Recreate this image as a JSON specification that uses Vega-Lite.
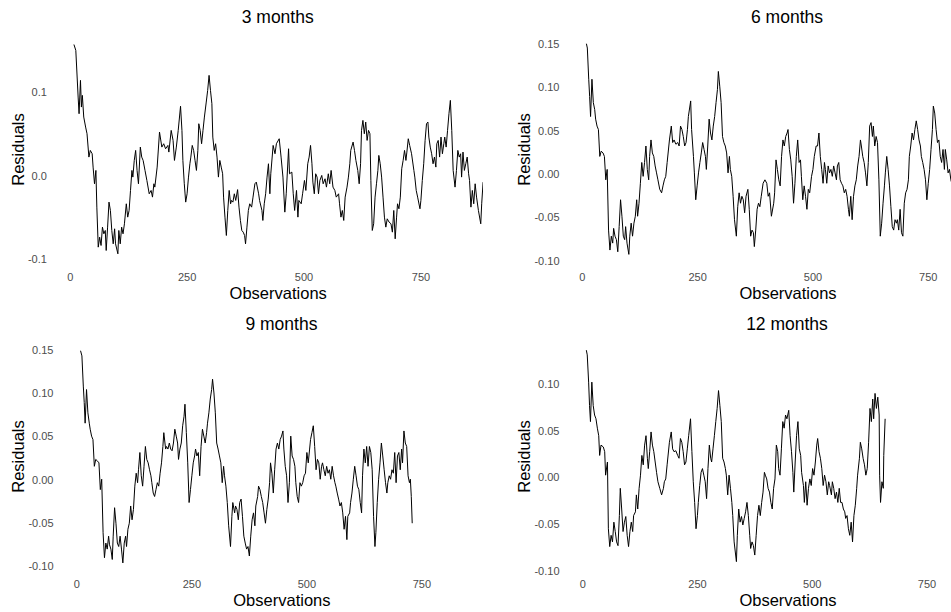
{
"$schema": "https://vega.github.io/schema/vega-lite/v6.json",
"background": "white",
"padding": {"left": 10, "top": 8, "right": 0, "bottom": 0},
"config": {
  "view": {"stroke": null},
  "font": "Liberation Sans",
  "axis": {"grid": false, "domain": false, "ticks": false, "labelFlush": false, "labelOverlap": false, "labelFont": "Liberation Sans", "labelFontSize": 11, "labelColor": "#4d4d4d", "titleFont": "Liberation Sans", "titleFontSize": 16.5, "titleFontWeight": "normal", "titleColor": "#000000"},
  "axisX": {"labelPadding": 5, "titlePadding": 3},
  "axisY": {"labelPadding": 4, "titlePadding": 1},
  "title": {"font": "Liberation Sans", "fontSize": 17.5, "fontWeight": "normal", "anchor": "middle", "color": "#000000", "offset": 6},
  "line": {"color": "#000000", "strokeWidth": 1}
},
"datasets": {
"m3": [{"obs":9,"r":0.158},{"obs":13,"r":0.151},{"obs":18,"r":0.095},{"obs":20,"r":0.075},{"obs":23,"r":0.115},{"obs":25,"r":0.083},{"obs":27,"r":0.097},{"obs":30,"r":0.071},{"obs":34,"r":0.059},{"obs":37,"r":0.051},{"obs":41,"r":0.023},{"obs":44,"r":0.031},{"obs":48,"r":0.027},{"obs":50,"r":0.011},{"obs":53,"r":-0.009},{"obs":56,"r":0.007},{"obs":58,"r":-0.037},{"obs":61,"r":-0.085},{"obs":64,"r":-0.073},{"obs":67,"r":-0.083},{"obs":70,"r":-0.061},{"obs":73,"r":-0.069},{"obs":76,"r":-0.065},{"obs":78,"r":-0.089},{"obs":81,"r":-0.061},{"obs":84,"r":-0.031},{"obs":87,"r":-0.041},{"obs":90,"r":-0.065},{"obs":93,"r":-0.081},{"obs":96,"r":-0.063},{"obs":98,"r":-0.081},{"obs":103,"r":-0.093},{"obs":105,"r":-0.065},{"obs":108,"r":-0.081},{"obs":111,"r":-0.061},{"obs":114,"r":-0.069},{"obs":117,"r":-0.057},{"obs":121,"r":-0.033},{"obs":124,"r":-0.049},{"obs":127,"r":-0.041},{"obs":130,"r":-0.017},{"obs":133,"r":0.007},{"obs":135,"r":-0.001},{"obs":138,"r":0.019},{"obs":141,"r":0.031},{"obs":144,"r":0.007},{"obs":147,"r":-0.009},{"obs":151,"r":0.035},{"obs":154,"r":0.023},{"obs":157,"r":0.019},{"obs":161,"r":0.007},{"obs":165,"r":-0.005},{"obs":170,"r":-0.021},{"obs":174,"r":-0.017},{"obs":177,"r":-0.025},{"obs":180,"r":-0.009},{"obs":182,"r":-0.013},{"obs":187,"r":0.011},{"obs":192,"r":0.053},{"obs":197,"r":0.035},{"obs":201,"r":0.039},{"obs":205,"r":0.033},{"obs":210,"r":0.037},{"obs":212,"r":0.029},{"obs":217,"r":0.055},{"obs":221,"r":0.043},{"obs":224,"r":0.019},{"obs":228,"r":0.035},{"obs":232,"r":0.055},{"obs":237,"r":0.084},{"obs":240,"r":0.055},{"obs":242,"r":0.019},{"obs":245,"r":-0.009},{"obs":248,"r":-0.031},{"obs":251,"r":-0.021},{"obs":254,"r":-0.001},{"obs":257,"r":0.015},{"obs":259,"r":0.023},{"obs":262,"r":0.037},{"obs":265,"r":0.031},{"obs":268,"r":0.019},{"obs":271,"r":0.007},{"obs":274,"r":0.031},{"obs":276,"r":0.063},{"obs":279,"r":0.055},{"obs":282,"r":0.039},{"obs":285,"r":0.055},{"obs":288,"r":0.071},{"obs":292,"r":0.089},{"obs":295,"r":0.103},{"obs":298,"r":0.121},{"obs":301,"r":0.103},{"obs":304,"r":0.087},{"obs":306,"r":0.047},{"obs":309,"r":0.031},{"obs":312,"r":0.039},{"obs":315,"r":0.023},{"obs":318,"r":-0.001},{"obs":321,"r":0.019},{"obs":324,"r":0.011},{"obs":327,"r":0.003},{"obs":329,"r":-0.025},{"obs":332,"r":-0.049},{"obs":335,"r":-0.071},{"obs":338,"r":-0.041},{"obs":341,"r":-0.017},{"obs":344,"r":-0.033},{"obs":346,"r":-0.029},{"obs":349,"r":-0.031},{"obs":352,"r":-0.021},{"obs":355,"r":-0.029},{"obs":359,"r":-0.016},{"obs":362,"r":-0.037},{"obs":365,"r":-0.053},{"obs":368,"r":-0.065},{"obs":371,"r":-0.067},{"obs":374,"r":-0.071},{"obs":376,"r":-0.081},{"obs":379,"r":-0.061},{"obs":382,"r":-0.041},{"obs":385,"r":-0.033},{"obs":389,"r":-0.037},{"obs":392,"r":-0.025},{"obs":396,"r":-0.009},{"obs":399,"r":-0.007},{"obs":404,"r":-0.021},{"obs":406,"r":-0.029},{"obs":411,"r":-0.041},{"obs":413,"r":-0.053},{"obs":416,"r":-0.033},{"obs":419,"r":-0.021},{"obs":422,"r":-0.001},{"obs":425,"r":0.015},{"obs":428,"r":-0.021},{"obs":430,"r":0.003},{"obs":435,"r":0.037},{"obs":439,"r":0.027},{"obs":442,"r":0.039},{"obs":448,"r":0.045},{"obs":452,"r":0.023},{"obs":456,"r":-0.001},{"obs":460,"r":-0.043},{"obs":463,"r":-0.021},{"obs":468,"r":0.033},{"obs":470,"r":0.003},{"obs":475,"r":0.005},{"obs":478,"r":-0.021},{"obs":481,"r":-0.041},{"obs":485,"r":-0.017},{"obs":488,"r":-0.049},{"obs":490,"r":-0.029},{"obs":495,"r":-0.033},{"obs":498,"r":-0.021},{"obs":502,"r":-0.005},{"obs":505,"r":-0.017},{"obs":509,"r":0.015},{"obs":512,"r":0.023},{"obs":515,"r":0.037},{"obs":518,"r":0.015},{"obs":520,"r":-0.007},{"obs":523,"r":-0.021},{"obs":526,"r":0.003},{"obs":529,"r":-0.001},{"obs":532,"r":-0.021},{"obs":535,"r":-0.005},{"obs":539,"r":0.001},{"obs":542,"r":-0.009},{"obs":546,"r":-0.003},{"obs":549,"r":-0.013},{"obs":553,"r":0.003},{"obs":556,"r":-0.009},{"obs":559,"r":0.007},{"obs":563,"r":-0.013},{"obs":567,"r":-0.017},{"obs":570,"r":-0.025},{"obs":575,"r":-0.021},{"obs":577,"r":-0.033},{"obs":580,"r":-0.049},{"obs":583,"r":-0.041},{"obs":586,"r":-0.053},{"obs":589,"r":-0.025},{"obs":593,"r":-0.013},{"obs":596,"r":-0.001},{"obs":599,"r":0.015},{"obs":601,"r":0.031},{"obs":606,"r":0.041},{"obs":609,"r":0.031},{"obs":612,"r":0.019},{"obs":616,"r":0.007},{"obs":619,"r":-0.009},{"obs":622,"r":0.015},{"obs":624,"r":0.055},{"obs":627,"r":0.067},{"obs":630,"r":0.051},{"obs":633,"r":0.065},{"obs":636,"r":0.043},{"obs":639,"r":0.055},{"obs":642,"r":0.051},{"obs":644,"r":-0.005},{"obs":647,"r":-0.065},{"obs":650,"r":-0.057},{"obs":653,"r":-0.025},{"obs":656,"r":-0.009},{"obs":659,"r":0.007},{"obs":661,"r":0.025},{"obs":664,"r":0.015},{"obs":667,"r":-0.001},{"obs":670,"r":-0.025},{"obs":673,"r":-0.049},{"obs":676,"r":-0.061},{"obs":679,"r":-0.051},{"obs":683,"r":-0.055},{"obs":687,"r":-0.057},{"obs":690,"r":-0.067},{"obs":693,"r":-0.041},{"obs":696,"r":-0.075},{"obs":699,"r":-0.049},{"obs":701,"r":-0.033},{"obs":704,"r":-0.039},{"obs":707,"r":-0.025},{"obs":710,"r":0.009},{"obs":713,"r":0.019},{"obs":716,"r":0.031},{"obs":719,"r":0.019},{"obs":721,"r":0.029},{"obs":724,"r":0.045},{"obs":727,"r":0.037},{"obs":731,"r":0.027},{"obs":736,"r":0.007},{"obs":738,"r":-0.001},{"obs":741,"r":-0.017},{"obs":744,"r":-0.025},{"obs":749,"r":-0.039},{"obs":751,"r":-0.029},{"obs":754,"r":-0.005},{"obs":757,"r":0.015},{"obs":760,"r":0.043},{"obs":763,"r":0.063},{"obs":766,"r":0.065},{"obs":768,"r":0.047},{"obs":771,"r":0.035},{"obs":774,"r":0.027},{"obs":777,"r":0.015},{"obs":780,"r":0.023},{"obs":783,"r":0.011},{"obs":785,"r":0.039},{"obs":788,"r":0.043},{"obs":791,"r":0.023},{"obs":794,"r":0.047},{"obs":797,"r":0.027},{"obs":800,"r":0.039},{"obs":802,"r":0.047},{"obs":805,"r":0.035},{"obs":808,"r":0.055},{"obs":811,"r":0.075},{"obs":814,"r":0.091},{"obs":817,"r":0.055},{"obs":820,"r":0.007},{"obs":824,"r":-0.013},{"obs":827,"r":0.007},{"obs":830,"r":0.031},{"obs":833,"r":0.023},{"obs":836,"r":0.027},{"obs":838,"r":-0.001},{"obs":841,"r":0.029},{"obs":844,"r":0.007},{"obs":847,"r":0.015},{"obs":850,"r":0.023},{"obs":853,"r":0.003},{"obs":855,"r":-0.005},{"obs":858,"r":-0.037},{"obs":861,"r":-0.017},{"obs":864,"r":-0.033},{"obs":867,"r":-0.009},{"obs":870,"r":-0.025},{"obs":874,"r":-0.041},{"obs":879,"r":-0.057},{"obs":881,"r":-0.033},{"obs":884,"r":-0.007}],
"m6": [{"obs":10,"r":0.151},{"obs":12,"r":0.146},{"obs":15,"r":0.110},{"obs":17,"r":0.090},{"obs":19,"r":0.067},{"obs":22,"r":0.110},{"obs":25,"r":0.083},{"obs":28,"r":0.075},{"obs":30,"r":0.064},{"obs":33,"r":0.056},{"obs":36,"r":0.052},{"obs":39,"r":0.021},{"obs":42,"r":0.027},{"obs":46,"r":0.025},{"obs":49,"r":0.021},{"obs":52,"r":-0.006},{"obs":55,"r":0.006},{"obs":58,"r":-0.064},{"obs":61,"r":-0.087},{"obs":64,"r":-0.071},{"obs":67,"r":-0.079},{"obs":69,"r":-0.062},{"obs":72,"r":-0.071},{"obs":75,"r":-0.075},{"obs":78,"r":-0.089},{"obs":81,"r":-0.060},{"obs":84,"r":-0.029},{"obs":87,"r":-0.048},{"obs":90,"r":-0.071},{"obs":93,"r":-0.075},{"obs":95,"r":-0.060},{"obs":98,"r":-0.079},{"obs":102,"r":-0.092},{"obs":104,"r":-0.071},{"obs":107,"r":-0.056},{"obs":110,"r":-0.071},{"obs":113,"r":-0.056},{"obs":116,"r":-0.048},{"obs":119,"r":-0.029},{"obs":121,"r":-0.048},{"obs":124,"r":-0.033},{"obs":127,"r":-0.010},{"obs":130,"r":0.014},{"obs":133,"r":-0.002},{"obs":136,"r":0.014},{"obs":139,"r":0.033},{"obs":142,"r":0.006},{"obs":145,"r":-0.006},{"obs":147,"r":0.021},{"obs":150,"r":0.040},{"obs":153,"r":0.025},{"obs":156,"r":0.021},{"obs":159,"r":0.010},{"obs":162,"r":0.002},{"obs":165,"r":-0.006},{"obs":169,"r":-0.017},{"obs":173,"r":-0.021},{"obs":176,"r":-0.013},{"obs":179,"r":-0.006},{"obs":182,"r":-0.002},{"obs":185,"r":0.014},{"obs":190,"r":0.040},{"obs":194,"r":0.056},{"obs":197,"r":0.037},{"obs":200,"r":0.040},{"obs":204,"r":0.035},{"obs":208,"r":0.037},{"obs":211,"r":0.033},{"obs":214,"r":0.056},{"obs":217,"r":0.052},{"obs":220,"r":0.044},{"obs":223,"r":0.033},{"obs":226,"r":0.037},{"obs":229,"r":0.052},{"obs":231,"r":0.067},{"obs":236,"r":0.085},{"obs":238,"r":0.052},{"obs":242,"r":0.021},{"obs":244,"r":0.002},{"obs":247,"r":-0.029},{"obs":250,"r":-0.013},{"obs":253,"r":0.002},{"obs":256,"r":0.014},{"obs":259,"r":0.025},{"obs":262,"r":0.037},{"obs":265,"r":0.029},{"obs":268,"r":0.021},{"obs":270,"r":0.006},{"obs":273,"r":0.033},{"obs":276,"r":0.064},{"obs":279,"r":0.048},{"obs":282,"r":0.040},{"obs":285,"r":0.056},{"obs":288,"r":0.067},{"obs":291,"r":0.083},{"obs":294,"r":0.098},{"obs":296,"r":0.119},{"obs":299,"r":0.102},{"obs":302,"r":0.083},{"obs":305,"r":0.044},{"obs":308,"r":0.037},{"obs":311,"r":0.033},{"obs":314,"r":0.025},{"obs":317,"r":0.002},{"obs":320,"r":0.021},{"obs":322,"r":0.006},{"obs":325,"r":-0.002},{"obs":328,"r":-0.025},{"obs":331,"r":-0.052},{"obs":335,"r":-0.071},{"obs":338,"r":-0.037},{"obs":341,"r":-0.021},{"obs":344,"r":-0.033},{"obs":347,"r":-0.025},{"obs":350,"r":-0.029},{"obs":353,"r":-0.044},{"obs":356,"r":-0.025},{"obs":360,"r":-0.017},{"obs":363,"r":-0.040},{"obs":366,"r":-0.071},{"obs":369,"r":-0.064},{"obs":372,"r":-0.067},{"obs":374,"r":-0.083},{"obs":377,"r":-0.064},{"obs":380,"r":-0.040},{"obs":383,"r":-0.033},{"obs":386,"r":-0.037},{"obs":389,"r":-0.025},{"obs":393,"r":-0.010},{"obs":397,"r":-0.006},{"obs":401,"r":-0.010},{"obs":404,"r":-0.025},{"obs":407,"r":-0.021},{"obs":411,"r":-0.048},{"obs":416,"r":-0.033},{"obs":418,"r":-0.021},{"obs":421,"r":0.017},{"obs":424,"r":0.006},{"obs":427,"r":-0.006},{"obs":430,"r":-0.013},{"obs":433,"r":0.021},{"obs":436,"r":0.040},{"obs":439,"r":0.033},{"obs":442,"r":0.044},{"obs":445,"r":0.048},{"obs":447,"r":0.052},{"obs":450,"r":0.029},{"obs":453,"r":0.017},{"obs":456,"r":-0.002},{"obs":459,"r":-0.033},{"obs":462,"r":-0.010},{"obs":465,"r":0.021},{"obs":468,"r":0.040},{"obs":471,"r":0.014},{"obs":474,"r":0.017},{"obs":476,"r":-0.002},{"obs":479,"r":-0.029},{"obs":482,"r":-0.013},{"obs":485,"r":-0.025},{"obs":488,"r":-0.040},{"obs":491,"r":-0.017},{"obs":494,"r":-0.021},{"obs":498,"r":-0.002},{"obs":501,"r":0.006},{"obs":504,"r":0.021},{"obs":508,"r":0.033},{"obs":511,"r":0.033},{"obs":514,"r":0.048},{"obs":517,"r":0.021},{"obs":520,"r":0.006},{"obs":523,"r":-0.010},{"obs":526,"r":0.014},{"obs":528,"r":0.006},{"obs":531,"r":-0.010},{"obs":534,"r":0.010},{"obs":537,"r":0.002},{"obs":540,"r":0.006},{"obs":543,"r":-0.002},{"obs":546,"r":0.010},{"obs":549,"r":0.002},{"obs":552,"r":-0.006},{"obs":554,"r":0.010},{"obs":557,"r":0.014},{"obs":560,"r":-0.006},{"obs":563,"r":-0.010},{"obs":566,"r":-0.013},{"obs":569,"r":-0.021},{"obs":572,"r":-0.017},{"obs":575,"r":-0.025},{"obs":578,"r":-0.040},{"obs":580,"r":-0.048},{"obs":583,"r":-0.025},{"obs":586,"r":-0.052},{"obs":589,"r":-0.025},{"obs":592,"r":-0.013},{"obs":595,"r":-0.006},{"obs":598,"r":0.010},{"obs":601,"r":0.021},{"obs":604,"r":0.040},{"obs":606,"r":0.033},{"obs":609,"r":0.021},{"obs":612,"r":0.014},{"obs":615,"r":0.002},{"obs":618,"r":-0.013},{"obs":621,"r":0.014},{"obs":624,"r":0.056},{"obs":627,"r":0.060},{"obs":630,"r":0.044},{"obs":632,"r":0.056},{"obs":635,"r":0.033},{"obs":638,"r":0.044},{"obs":641,"r":0.037},{"obs":644,"r":-0.006},{"obs":647,"r":-0.071},{"obs":650,"r":-0.056},{"obs":653,"r":-0.033},{"obs":656,"r":-0.013},{"obs":658,"r":0.002},{"obs":661,"r":0.021},{"obs":664,"r":0.006},{"obs":667,"r":-0.013},{"obs":670,"r":-0.037},{"obs":673,"r":-0.060},{"obs":676,"r":-0.064},{"obs":679,"r":-0.052},{"obs":682,"r":-0.056},{"obs":684,"r":-0.052},{"obs":687,"r":-0.064},{"obs":690,"r":-0.040},{"obs":693,"r":-0.067},{"obs":696,"r":-0.071},{"obs":699,"r":-0.033},{"obs":702,"r":-0.021},{"obs":705,"r":-0.017},{"obs":708,"r":-0.006},{"obs":710,"r":0.021},{"obs":713,"r":0.033},{"obs":716,"r":0.048},{"obs":719,"r":0.040},{"obs":722,"r":0.052},{"obs":725,"r":0.062},{"obs":728,"r":0.052},{"obs":731,"r":0.040},{"obs":734,"r":0.033},{"obs":736,"r":0.021},{"obs":739,"r":0.014},{"obs":742,"r":0.006},{"obs":745,"r":-0.006},{"obs":748,"r":-0.029},{"obs":751,"r":-0.010},{"obs":754,"r":0.006},{"obs":757,"r":0.029},{"obs":760,"r":0.052},{"obs":762,"r":0.079},{"obs":765,"r":0.071},{"obs":768,"r":0.052},{"obs":771,"r":0.037},{"obs":774,"r":0.040},{"obs":777,"r":0.021},{"obs":780,"r":0.014},{"obs":783,"r":0.029},{"obs":786,"r":0.006},{"obs":788,"r":0.029},{"obs":791,"r":0.017},{"obs":794,"r":0.002},{"obs":797,"r":0.006},{"obs":800,"r":-0.006},{"obs":803,"r":-0.012}],
"m9": [{"obs":9,"r":0.150},{"obs":12,"r":0.144},{"obs":15,"r":0.109},{"obs":17,"r":0.090},{"obs":19,"r":0.066},{"obs":22,"r":0.105},{"obs":25,"r":0.078},{"obs":28,"r":0.066},{"obs":30,"r":0.059},{"obs":33,"r":0.051},{"obs":36,"r":0.047},{"obs":39,"r":0.016},{"obs":42,"r":0.024},{"obs":46,"r":0.022},{"obs":49,"r":0.020},{"obs":52,"r":-0.011},{"obs":55,"r":0.001},{"obs":58,"r":-0.061},{"obs":61,"r":-0.090},{"obs":64,"r":-0.073},{"obs":67,"r":-0.080},{"obs":70,"r":-0.065},{"obs":72,"r":-0.075},{"obs":75,"r":-0.080},{"obs":78,"r":-0.092},{"obs":80,"r":-0.065},{"obs":83,"r":-0.032},{"obs":86,"r":-0.050},{"obs":89,"r":-0.073},{"obs":92,"r":-0.077},{"obs":95,"r":-0.065},{"obs":98,"r":-0.080},{"obs":101,"r":-0.096},{"obs":104,"r":-0.073},{"obs":107,"r":-0.065},{"obs":109,"r":-0.077},{"obs":112,"r":-0.057},{"obs":115,"r":-0.050},{"obs":118,"r":-0.030},{"obs":121,"r":-0.046},{"obs":124,"r":-0.034},{"obs":127,"r":-0.007},{"obs":130,"r":0.008},{"obs":133,"r":-0.003},{"obs":135,"r":0.012},{"obs":138,"r":0.032},{"obs":141,"r":0.005},{"obs":144,"r":-0.007},{"obs":147,"r":0.016},{"obs":150,"r":0.039},{"obs":153,"r":0.024},{"obs":156,"r":0.020},{"obs":159,"r":0.012},{"obs":162,"r":0.005},{"obs":164,"r":-0.003},{"obs":167,"r":-0.015},{"obs":170,"r":-0.019},{"obs":173,"r":-0.011},{"obs":176,"r":-0.003},{"obs":179,"r":-0.007},{"obs":182,"r":0.008},{"obs":185,"r":0.020},{"obs":188,"r":0.039},{"obs":190,"r":0.055},{"obs":194,"r":0.036},{"obs":196,"r":0.039},{"obs":199,"r":0.036},{"obs":202,"r":0.043},{"obs":205,"r":0.036},{"obs":208,"r":0.034},{"obs":211,"r":0.043},{"obs":214,"r":0.059},{"obs":217,"r":0.051},{"obs":220,"r":0.043},{"obs":222,"r":0.024},{"obs":225,"r":0.036},{"obs":228,"r":0.043},{"obs":231,"r":0.063},{"obs":234,"r":0.074},{"obs":236,"r":0.088},{"obs":239,"r":0.055},{"obs":242,"r":0.020},{"obs":245,"r":-0.026},{"obs":248,"r":-0.011},{"obs":251,"r":0.005},{"obs":254,"r":0.020},{"obs":257,"r":0.028},{"obs":259,"r":0.036},{"obs":262,"r":0.028},{"obs":265,"r":0.032},{"obs":268,"r":0.005},{"obs":271,"r":0.039},{"obs":274,"r":0.059},{"obs":277,"r":0.051},{"obs":280,"r":0.043},{"obs":283,"r":0.055},{"obs":285,"r":0.066},{"obs":288,"r":0.078},{"obs":291,"r":0.094},{"obs":294,"r":0.105},{"obs":296,"r":0.117},{"obs":299,"r":0.101},{"obs":302,"r":0.078},{"obs":305,"r":0.043},{"obs":308,"r":0.036},{"obs":311,"r":0.028},{"obs":314,"r":0.020},{"obs":317,"r":-0.003},{"obs":320,"r":0.016},{"obs":322,"r":0.005},{"obs":325,"r":-0.007},{"obs":328,"r":-0.026},{"obs":331,"r":-0.053},{"obs":335,"r":-0.077},{"obs":338,"r":-0.042},{"obs":340,"r":-0.026},{"obs":344,"r":-0.038},{"obs":346,"r":-0.030},{"obs":349,"r":-0.034},{"obs":352,"r":-0.046},{"obs":355,"r":-0.026},{"obs":358,"r":-0.022},{"obs":361,"r":-0.042},{"obs":364,"r":-0.065},{"obs":367,"r":-0.073},{"obs":370,"r":-0.080},{"obs":373,"r":-0.077},{"obs":376,"r":-0.088},{"obs":379,"r":-0.065},{"obs":382,"r":-0.046},{"obs":385,"r":-0.038},{"obs":388,"r":-0.053},{"obs":390,"r":-0.030},{"obs":394,"r":-0.019},{"obs":396,"r":-0.007},{"obs":399,"r":-0.011},{"obs":402,"r":-0.019},{"obs":405,"r":-0.026},{"obs":408,"r":-0.038},{"obs":411,"r":-0.050},{"obs":414,"r":-0.034},{"obs":417,"r":-0.022},{"obs":420,"r":-0.003},{"obs":422,"r":0.020},{"obs":425,"r":0.008},{"obs":428,"r":-0.015},{"obs":431,"r":0.012},{"obs":434,"r":0.036},{"obs":437,"r":0.043},{"obs":440,"r":0.036},{"obs":443,"r":0.047},{"obs":446,"r":0.051},{"obs":449,"r":0.057},{"obs":451,"r":0.036},{"obs":454,"r":0.016},{"obs":457,"r":0.005},{"obs":460,"r":-0.026},{"obs":463,"r":-0.003},{"obs":466,"r":0.051},{"obs":469,"r":0.028},{"obs":472,"r":0.024},{"obs":475,"r":0.016},{"obs":477,"r":-0.003},{"obs":480,"r":-0.019},{"obs":483,"r":-0.026},{"obs":486,"r":-0.003},{"obs":489,"r":-0.007},{"obs":492,"r":-0.003},{"obs":495,"r":0.005},{"obs":498,"r":0.008},{"obs":501,"r":0.032},{"obs":504,"r":0.020},{"obs":507,"r":0.036},{"obs":509,"r":0.047},{"obs":512,"r":0.055},{"obs":515,"r":0.063},{"obs":518,"r":0.039},{"obs":521,"r":0.012},{"obs":524,"r":0.024},{"obs":527,"r":0.020},{"obs":530,"r":0.001},{"obs":533,"r":0.016},{"obs":535,"r":0.020},{"obs":538,"r":0.012},{"obs":541,"r":0.005},{"obs":544,"r":0.016},{"obs":547,"r":0.008},{"obs":550,"r":0.012},{"obs":553,"r":0.001},{"obs":556,"r":0.016},{"obs":559,"r":0.005},{"obs":562,"r":-0.003},{"obs":564,"r":-0.007},{"obs":567,"r":-0.015},{"obs":570,"r":-0.022},{"obs":573,"r":-0.030},{"obs":576,"r":-0.026},{"obs":579,"r":-0.038},{"obs":582,"r":-0.057},{"obs":585,"r":-0.042},{"obs":588,"r":-0.069},{"obs":590,"r":-0.042},{"obs":594,"r":-0.038},{"obs":596,"r":-0.026},{"obs":599,"r":-0.015},{"obs":602,"r":0.001},{"obs":605,"r":0.016},{"obs":608,"r":0.005},{"obs":611,"r":-0.007},{"obs":614,"r":-0.011},{"obs":617,"r":-0.026},{"obs":620,"r":-0.038},{"obs":622,"r":0.005},{"obs":625,"r":0.036},{"obs":628,"r":0.020},{"obs":631,"r":0.039},{"obs":634,"r":0.016},{"obs":637,"r":0.039},{"obs":640,"r":0.032},{"obs":643,"r":0.012},{"obs":646,"r":-0.042},{"obs":649,"r":-0.077},{"obs":651,"r":-0.061},{"obs":654,"r":-0.026},{"obs":657,"r":0.001},{"obs":660,"r":0.020},{"obs":663,"r":0.043},{"obs":666,"r":0.028},{"obs":669,"r":0.012},{"obs":672,"r":-0.003},{"obs":675,"r":-0.015},{"obs":677,"r":-0.003},{"obs":680,"r":0.005},{"obs":683,"r":0.001},{"obs":686,"r":0.012},{"obs":689,"r":0.008},{"obs":692,"r":0.032},{"obs":695,"r":-0.003},{"obs":698,"r":0.028},{"obs":701,"r":0.032},{"obs":704,"r":0.012},{"obs":707,"r":0.036},{"obs":709,"r":0.020},{"obs":712,"r":0.057},{"obs":715,"r":0.043},{"obs":718,"r":0.039},{"obs":721,"r":0.005},{"obs":724,"r":-0.003},{"obs":726,"r":0.001},{"obs":728,"r":-0.019},{"obs":730,"r":-0.050}],
"m12": [{"obs":9,"r":0.136},{"obs":11,"r":0.131},{"obs":14,"r":0.102},{"obs":16,"r":0.077},{"obs":18,"r":0.060},{"obs":21,"r":0.102},{"obs":24,"r":0.077},{"obs":27,"r":0.067},{"obs":30,"r":0.063},{"obs":33,"r":0.053},{"obs":36,"r":0.045},{"obs":38,"r":0.024},{"obs":41,"r":0.035},{"obs":46,"r":0.033},{"obs":49,"r":0.028},{"obs":51,"r":0.003},{"obs":55,"r":0.017},{"obs":57,"r":-0.054},{"obs":60,"r":-0.073},{"obs":63,"r":-0.061},{"obs":66,"r":-0.068},{"obs":69,"r":-0.047},{"obs":72,"r":-0.057},{"obs":75,"r":-0.068},{"obs":78,"r":-0.072},{"obs":81,"r":-0.040},{"obs":83,"r":-0.011},{"obs":86,"r":-0.033},{"obs":89,"r":-0.057},{"obs":92,"r":-0.047},{"obs":95,"r":-0.041},{"obs":98,"r":-0.061},{"obs":101,"r":-0.073},{"obs":104,"r":-0.057},{"obs":107,"r":-0.047},{"obs":110,"r":-0.057},{"obs":112,"r":-0.040},{"obs":116,"r":-0.036},{"obs":118,"r":-0.018},{"obs":121,"r":-0.033},{"obs":124,"r":-0.011},{"obs":127,"r":0.003},{"obs":130,"r":0.024},{"obs":133,"r":0.014},{"obs":136,"r":0.035},{"obs":139,"r":0.045},{"obs":142,"r":0.021},{"obs":144,"r":0.010},{"obs":147,"r":0.028},{"obs":150,"r":0.049},{"obs":153,"r":0.035},{"obs":156,"r":0.028},{"obs":159,"r":0.017},{"obs":162,"r":0.006},{"obs":165,"r":-0.004},{"obs":169,"r":-0.011},{"obs":173,"r":-0.018},{"obs":177,"r":-0.011},{"obs":179,"r":-0.004},{"obs":182,"r":-0.001},{"obs":185,"r":0.014},{"obs":190,"r":0.038},{"obs":194,"r":0.049},{"obs":197,"r":0.031},{"obs":200,"r":0.028},{"obs":204,"r":0.029},{"obs":208,"r":0.024},{"obs":211,"r":0.021},{"obs":214,"r":0.042},{"obs":217,"r":0.038},{"obs":220,"r":0.028},{"obs":223,"r":0.014},{"obs":226,"r":0.017},{"obs":229,"r":0.031},{"obs":232,"r":0.045},{"obs":236,"r":0.063},{"obs":239,"r":0.028},{"obs":242,"r":-0.004},{"obs":245,"r":-0.026},{"obs":248,"r":-0.054},{"obs":251,"r":-0.040},{"obs":253,"r":-0.026},{"obs":256,"r":-0.008},{"obs":259,"r":0.006},{"obs":262,"r":0.010},{"obs":265,"r":0.003},{"obs":268,"r":-0.004},{"obs":271,"r":-0.022},{"obs":274,"r":0.010},{"obs":277,"r":0.035},{"obs":280,"r":0.021},{"obs":282,"r":0.017},{"obs":285,"r":0.031},{"obs":288,"r":0.045},{"obs":291,"r":0.060},{"obs":294,"r":0.074},{"obs":297,"r":0.093},{"obs":300,"r":0.077},{"obs":303,"r":0.060},{"obs":306,"r":0.021},{"obs":309,"r":0.017},{"obs":312,"r":0.010},{"obs":314,"r":0.003},{"obs":317,"r":-0.018},{"obs":320,"r":0.003},{"obs":323,"r":-0.011},{"obs":326,"r":-0.026},{"obs":328,"r":-0.040},{"obs":331,"r":-0.068},{"obs":336,"r":-0.089},{"obs":338,"r":-0.061},{"obs":341,"r":-0.033},{"obs":344,"r":-0.047},{"obs":347,"r":-0.041},{"obs":350,"r":-0.050},{"obs":353,"r":-0.043},{"obs":356,"r":-0.036},{"obs":359,"r":-0.026},{"obs":362,"r":-0.040},{"obs":365,"r":-0.061},{"obs":367,"r":-0.075},{"obs":370,"r":-0.068},{"obs":373,"r":-0.072},{"obs":376,"r":-0.082},{"obs":379,"r":-0.061},{"obs":382,"r":-0.040},{"obs":385,"r":-0.029},{"obs":388,"r":-0.040},{"obs":391,"r":-0.026},{"obs":394,"r":-0.015},{"obs":397,"r":0.006},{"obs":399,"r":0.003},{"obs":402,"r":-0.001},{"obs":405,"r":-0.011},{"obs":408,"r":-0.015},{"obs":411,"r":-0.026},{"obs":414,"r":-0.033},{"obs":417,"r":-0.011},{"obs":420,"r":-0.001},{"obs":423,"r":0.035},{"obs":426,"r":0.028},{"obs":428,"r":0.010},{"obs":431,"r":0.003},{"obs":434,"r":0.031},{"obs":437,"r":0.060},{"obs":440,"r":0.053},{"obs":443,"r":0.067},{"obs":446,"r":0.063},{"obs":450,"r":0.072},{"obs":453,"r":0.045},{"obs":456,"r":0.028},{"obs":459,"r":0.006},{"obs":461,"r":-0.015},{"obs":464,"r":0.017},{"obs":467,"r":0.045},{"obs":470,"r":0.060},{"obs":473,"r":0.031},{"obs":476,"r":0.024},{"obs":478,"r":0.006},{"obs":482,"r":-0.008},{"obs":484,"r":-0.026},{"obs":487,"r":-0.004},{"obs":490,"r":-0.029},{"obs":493,"r":-0.011},{"obs":496,"r":-0.001},{"obs":499,"r":-0.008},{"obs":502,"r":0.010},{"obs":505,"r":0.003},{"obs":508,"r":0.017},{"obs":511,"r":0.035},{"obs":513,"r":0.042},{"obs":516,"r":0.028},{"obs":519,"r":0.021},{"obs":522,"r":0.010},{"obs":525,"r":-0.008},{"obs":528,"r":0.003},{"obs":531,"r":-0.004},{"obs":534,"r":-0.018},{"obs":537,"r":-0.004},{"obs":539,"r":-0.008},{"obs":543,"r":-0.018},{"obs":545,"r":-0.004},{"obs":548,"r":-0.011},{"obs":551,"r":-0.022},{"obs":554,"r":-0.015},{"obs":557,"r":-0.026},{"obs":560,"r":-0.011},{"obs":563,"r":-0.026},{"obs":566,"r":-0.026},{"obs":569,"r":-0.033},{"obs":572,"r":-0.036},{"obs":574,"r":-0.043},{"obs":577,"r":-0.040},{"obs":580,"r":-0.054},{"obs":583,"r":-0.061},{"obs":586,"r":-0.047},{"obs":589,"r":-0.068},{"obs":592,"r":-0.040},{"obs":595,"r":-0.029},{"obs":598,"r":-0.011},{"obs":600,"r":0.003},{"obs":604,"r":0.021},{"obs":606,"r":0.038},{"obs":609,"r":0.031},{"obs":612,"r":0.021},{"obs":615,"r":0.014},{"obs":618,"r":0.003},{"obs":621,"r":0.010},{"obs":624,"r":0.038},{"obs":627,"r":0.074},{"obs":630,"r":0.060},{"obs":633,"r":0.084},{"obs":635,"r":0.063},{"obs":638,"r":0.090},{"obs":641,"r":0.074},{"obs":644,"r":0.086},{"obs":647,"r":0.067},{"obs":648,"r":0.003},{"obs":650,"r":-0.026},{"obs":653,"r":-0.004},{"obs":656,"r":-0.011},{"obs":657,"r":0.024},{"obs":660,"r":0.063}]
},
"spacing": 13,
"vconcat": [
 {"spacing": 33, "hconcat": [
  {"data": {"name": "m3"}, "title": {"text": "3 months", "dx": 7.7}, "width": 426, "height": 234,
   "mark": {"type": "line", "clip": true},
   "encoding": {
    "x": {"field": "obs", "type": "quantitative", "scale": {"domain": [-27.2, 883.8], "nice": false, "zero": false}, "axis": {"title": "Observations", "values": [0, 250, 500, 750], "format": "d", "titleX": 220.7}},
    "y": {"field": "r", "type": "quantitative", "scale": {"domain": [-0.1076, 0.173], "nice": false, "zero": false}, "axis": {"title": "Residuals", "values": [-0.1, 0, 0.1], "format": ".1f", "labelPadding": 10.6, "labelExpr": "replace(datum.label, '\u2212', '-')"}}
   }},
  {"data": {"name": "m6"}, "title": {"text": "6 months", "dx": 30}, "width": 388, "height": 234,
   "mark": {"type": "line", "clip": true},
   "encoding": {
    "x": {"field": "obs", "type": "quantitative", "scale": {"domain": [-40.75, 800.3], "nice": false, "zero": false}, "axis": {"title": "Observations", "values": [0, 250, 500, 750], "format": "d", "titleX": 224.5}},
    "y": {"field": "r", "type": "quantitative", "scale": {"domain": [-0.1054, 0.1645], "nice": false, "zero": false}, "axis": {"title": "Residuals", "values": [-0.1, -0.05, 0, 0.05, 0.1, 0.15], "format": ".2f", "labelExpr": "replace(datum.label, '\u2212', '-')"}}
   }}
 ]},
 {"spacing": 33, "hconcat": [
  {"data": {"name": "m9"}, "title": {"text": "9 months", "dx": 11.4}, "width": 426, "height": 234,
   "mark": {"type": "line", "clip": true},
   "encoding": {
    "x": {"field": "obs", "type": "quantitative", "scale": {"domain": [-42.17, 883.9], "nice": false, "zero": false}, "axis": {"title": "Observations", "values": [0, 250, 500, 750], "format": "d", "titleX": 224.4}},
    "y": {"field": "r", "type": "quantitative", "scale": {"domain": [-0.1077, 0.1636], "nice": false, "zero": false}, "axis": {"title": "Residuals", "values": [-0.1, -0.05, 0, 0.05, 0.1, 0.15], "format": ".2f", "labelExpr": "replace(datum.label, '\u2212', '-')"}}
   }},
  {"data": {"name": "m12"}, "title": {"text": "12 months", "dx": 30}, "width": 388, "height": 234,
   "mark": {"type": "line", "clip": true},
   "encoding": {
    "x": {"field": "obs", "type": "quantitative", "scale": {"domain": [-41.83, 803.5], "nice": false, "zero": false}, "axis": {"title": "Observations", "values": [0, 250, 500, 750], "format": "d", "titleX": 224.5}},
    "y": {"field": "r", "type": "quantitative", "scale": {"domain": [-0.1011, 0.1479], "nice": false, "zero": false}, "axis": {"title": "Residuals", "values": [-0.1, -0.05, 0, 0.05, 0.1], "format": ".2f", "labelExpr": "replace(datum.label, '\u2212', '-')"}}
   }}
 ]}
]
}
